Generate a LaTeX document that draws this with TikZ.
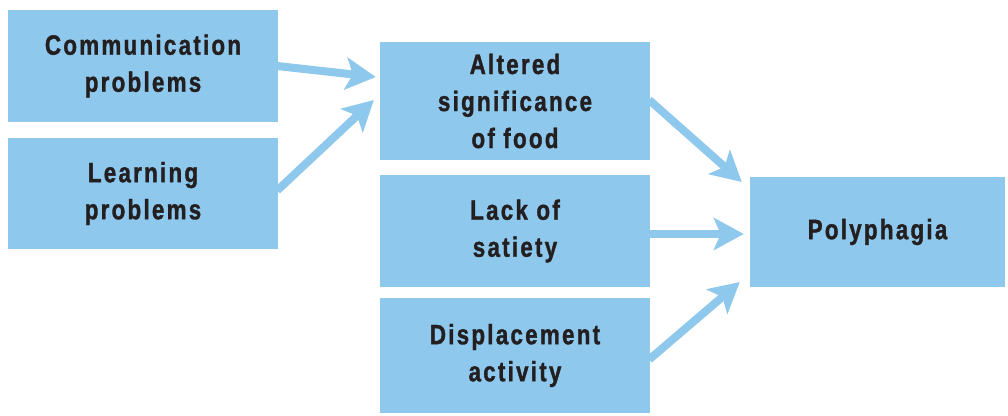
\documentclass[tikz,border=0pt]{standalone}
\usepackage{fontspec}
\setmainfont{Liberation Sans}[FakeStretch=0.8,LetterSpace=8,BoldFeatures={FakeBold=1.2}]
\usepackage{tikz}
\usetikzlibrary{arrows.meta}
\definecolor{boxblue}{RGB}{142,200,236}
\definecolor{inkdark}{RGB}{35,31,32}

\begin{document}
\begin{tikzpicture}[x=1pt, y=-1pt,
    cause/.style={fill=boxblue, inner sep=0pt, align=center, text=inkdark,
        font=\bfseries\fontsize{28}{37}\selectfont},
    flow/.style={draw=boxblue, line width=8pt,
        -{Stealth[length=30pt, width=32pt, inset=7pt]}}]
        \useasboundingbox (0,0) rectangle (1008,415);
        % left column
        \node[cause, minimum width=270pt, minimum height=112pt] (comm) at (143,66) {Communication\\problems};
        \node[cause, minimum width=270pt, minimum height=111pt] (learn) at (143,193.5) {Learning\\problems};
        % middle column
        \node[cause, minimum width=270pt, minimum height=118pt] (alter) at (515,101) {Altered\\significance\\of food};
        \node[cause, minimum width=270pt, minimum height=112pt] (satiety) at (515,231) {Lack of\\satiety};
        \node[cause, minimum width=270pt, minimum height=115pt] (displace) at (515,355.5) {Displacement\\activity};
        % result
        \node[cause, minimum width=255pt, minimum height=110pt] (poly) at (877.5,232) {Polyphagia};
        % arrows
        \draw[flow] ([xshift=-1pt]comm.east) -- ([xshift=-4pt, yshift=24pt]alter.west);
        \draw[flow] ([xshift=-1pt, yshift=3pt]learn.east) -- ([xshift=-6pt, yshift=1pt]alter.west);
        \draw[flow] ([xshift=-1pt, yshift=1pt]alter.east) -- ([xshift=-8pt, yshift=50pt]poly.west);
        \draw[flow] ([xshift=-1pt, yshift=-3pt]satiety.east) -- ([xshift=-6pt, yshift=-2pt]poly.west);
        \draw[flow] ([xshift=-1pt, yshift=-4pt]displace.east) -- ([xshift=-10pt, yshift=-50pt]poly.west);
    \end{tikzpicture}
\end{document}
